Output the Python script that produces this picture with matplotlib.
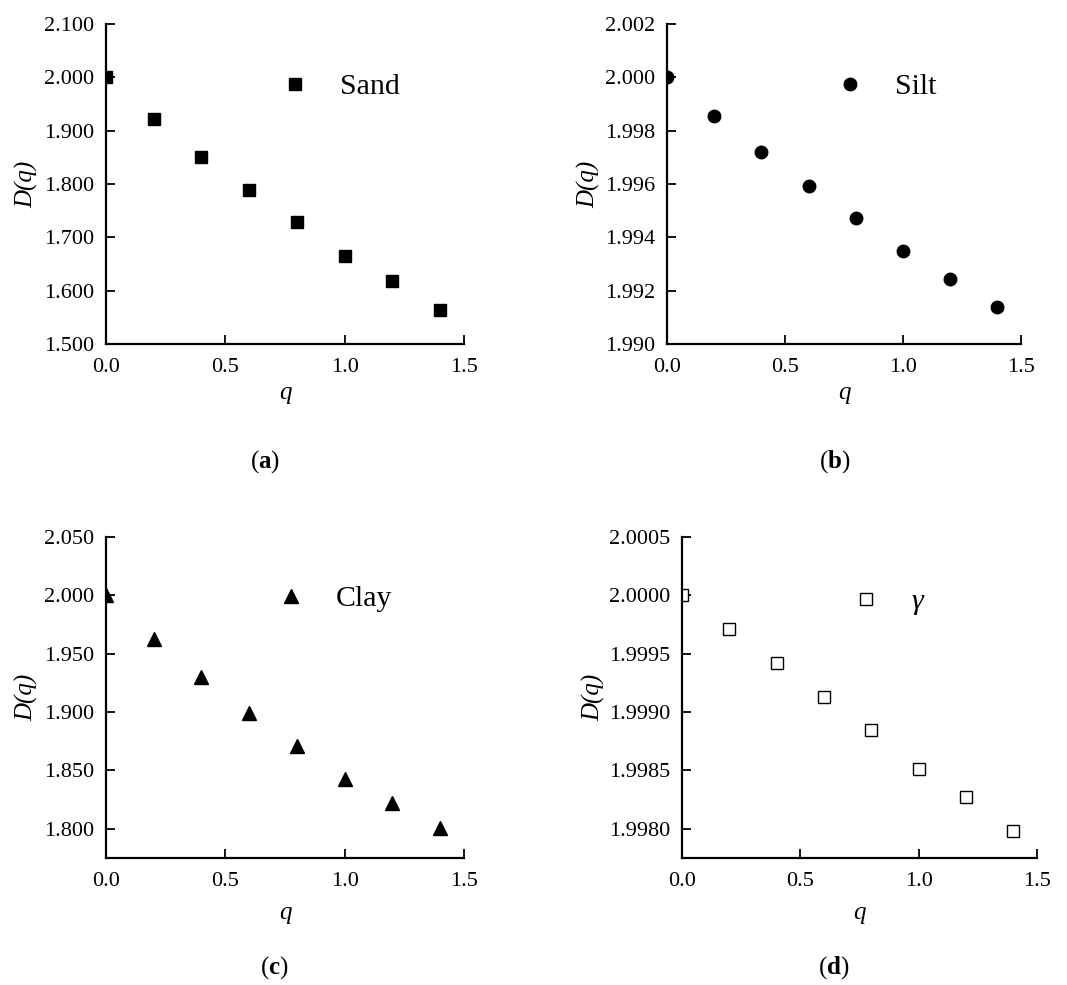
import matplotlib
matplotlib.use('Agg')
import matplotlib.pyplot as plt

plt.rcParams['font.family'] = ['Liberation Serif', 'DejaVu Serif']
plt.rcParams['mathtext.fontset'] = 'custom'
plt.rcParams['mathtext.rm'] = 'Liberation Serif'
plt.rcParams['mathtext.it'] = 'Liberation Serif:italic'
plt.rcParams['mathtext.bf'] = 'Liberation Serif:bold'

# Data
q = [0.0, 0.2, 0.4, 0.6, 0.8, 1.0, 1.2, 1.4]
d_sand = [2.000, 1.921, 1.851, 1.789, 1.729, 1.665, 1.618, 1.564]
d_silt = [2.0000, 1.99854, 1.99720, 1.99592, 1.99471, 1.99350, 1.99245, 1.99138]
d_clay = [2.000, 1.963, 1.930, 1.899, 1.871, 1.843, 1.822, 1.801]
d_gamma = [2.0000, 1.99971, 1.99942, 1.99913, 1.99885, 1.99851, 1.99827, 1.99798]

x_ticks = [0.0, 0.5, 1.0, 1.5]
y_ticks_a = [1.5, 1.6, 1.7, 1.8, 1.9, 2.0, 2.1]
y_ticks_b = [1.990, 1.992, 1.994, 1.996, 1.998, 2.000, 2.002]
y_ticks_c = [1.80, 1.85, 1.90, 1.95, 2.00, 2.05]
y_ticks_d = [1.9980, 1.9985, 1.9990, 1.9995, 2.0000, 2.0005]

tick_size = 16
label_size = 18
legend_size = 21.5
caption_size = 18

fig = plt.figure(figsize=(10.67, 9.85), dpi=100)

ax_a = fig.add_axes([0.0993, 0.6508, 0.3355, 0.3249])
ax_b = fig.add_axes([0.6251, 0.6508, 0.3318, 0.3249])
ax_c = fig.add_axes([0.0993, 0.1289, 0.3355, 0.3259])
ax_d = fig.add_axes([0.6392, 0.1289, 0.3327, 0.3259])

# ax, values, marker, face, size, name, style, ylim, yticks, fmt, legend x, legend y, ylabel x, xlabel pad
panels = [
    (ax_a, d_sand, 's', 'k', 8, 'Sand', 'normal', (1.5, 2.1), y_ticks_a, '{:.3f}', 0.528, 0.803, -0.19, 4),
    (ax_b, d_silt, 'o', 'k', 9, 'Silt', 'normal', (1.990, 2.002), y_ticks_b, '{:.3f}', 0.517, 0.803, -0.189, 4),
    (ax_c, d_clay, '^', 'k', 10.5, 'Clay', 'normal', (1.775, 2.05), y_ticks_c, '{:.3f}', 0.517, 0.807, -0.19, 8),
    (ax_d, d_gamma, 's', 'white', 8, 'γ', 'italic', (1.99775, 2.0005), y_ticks_d, '{:.4f}', 0.518, 0.798, -0.217, 8),
]

for ax, vals, mk, fc, ms, name, style, ylim, yt, fmt, lx, ly, ylab_x, xpad in panels:
    ax.plot(q, vals, linestyle='none', marker=mk, markersize=ms,
            markerfacecolor=fc, markeredgecolor='k', markeredgewidth=1.0, label=name)
    ax.set_xlim(0, 1.5)
    ax.set_ylim(*ylim)
    ax.set_xticks(x_ticks)
    ax.set_xticklabels([f'{v:.1f}' for v in x_ticks])
    ax.set_yticks(yt)
    ax.set_yticklabels([fmt.format(v) for v in yt])
    ax.spines[['top', 'right']].set_visible(False)
    ax.spines[['left', 'bottom']].set_linewidth(1.6)
    ax.tick_params(direction='in', length=6.5, width=1.3, labelsize=tick_size, colors='k')
    ax.tick_params(axis='x', pad=10)
    ax.tick_params(axis='y', pad=8.5)
    ax.set_xlabel('q', fontsize=label_size, style='italic', labelpad=xpad)
    ax.set_ylabel('D(q)', fontsize=label_size, style='italic')
    ax.yaxis.set_label_coords(ylab_x, 0.5)

    ax.legend(loc='center left', bbox_to_anchor=(lx - 0.041, ly), frameon=False,
              numpoints=1, handlelength=1.0, handletextpad=1.0, borderpad=0,
              borderaxespad=0, prop={'size': legend_size, 'style': style})

# Panel captions
fig.text(265 / 1067, 1 - 462 / 985, r'($\mathbf{a}$)', fontsize=caption_size, ha='center', va='center')
fig.text(835 / 1067, 1 - 462 / 985, r'($\mathbf{b}$)', fontsize=caption_size, ha='center', va='center')
fig.text(274 / 1067, 1 - 968 / 985, r'($\mathbf{c}$)', fontsize=caption_size, ha='center', va='center')
fig.text(834 / 1067, 1 - 968 / 985, r'($\mathbf{d}$)', fontsize=caption_size, ha='center', va='center')

fig.savefig('out.png', dpi=100)
